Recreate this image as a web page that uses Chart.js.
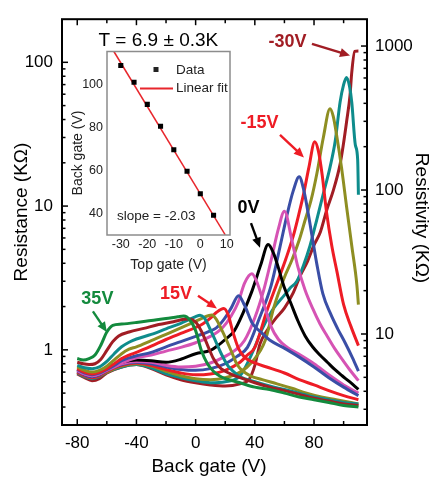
<!DOCTYPE html>
<html>
<head>
<meta charset="utf-8">
<script src="https://cdn.jsdelivr.net/npm/chart.js@4.4.1/dist/chart.umd.min.js"></script>
<style>
  html, body { margin: 0; padding: 0; background: #fff; }
  #wrap { position: relative; width: 431px; height: 477px; }
  #main { position: absolute; left: 0; top: 0; }
  #inset { position: absolute; left: 60px; top: 40px; }
</style>
</head>
<body>
<div id="wrap">
  <canvas id="main" width="431" height="477"></canvas>
  <canvas id="inset" width="180" height="240"></canvas>
</div>
<script>
// main panel: resistance vs back gate, one curve per top gate voltage
// back gate (V) / resistance (kOhm)
const g35V = [-80,-76,-72,-68,-64,-60,-56,-50,-40,-30,-20,-12,-8,-4,0,4,8,12,16,20,25,30,40,50,60,70,80,90,100,110];
const g35R = [0.87,0.85,0.87,0.92,1.08,1.33,1.48,1.51,1.55,1.60,1.65,1.70,1.72,1.62,1.36,0.98,0.80,0.71,0.66,0.63,0.61,0.59,0.55,0.53,0.50,0.47,0.45,0.43,0.41,0.40];

const d30V = [-80,-76,-72,-68,-64,-60,-56,-52,-45,-35,-25,-15,-8,-4,0,4,8,12,16,20,25,30,40,50,60,70,80,90,100,110];
const d30R = [0.82,0.80,0.79,0.80,0.86,0.99,1.14,1.25,1.33,1.41,1.50,1.57,1.63,1.64,1.56,1.34,1.08,0.87,0.76,0.71,0.67,0.64,0.59,0.55,0.52,0.49,0.46,0.44,0.42,0.41];

const t25V = [-80,-75,-70,-65,-60,-55,-50,-45,-40,-30,-20,-10,-4,0,3,6,10,14,18,22,26,30,40,50,60,70,80,90,100,110];
const t25R = [0.78,0.75,0.74,0.76,0.83,0.94,1.05,1.13,1.19,1.28,1.40,1.53,1.63,1.70,1.74,1.66,1.38,1.12,0.91,0.77,0.70,0.65,0.60,0.56,0.53,0.50,0.47,0.45,0.43,0.42];

const o20V = [-80,-75,-70,-65,-60,-55,-50,-45,-40,-30,-20,-10,0,5,8,11,14,17,21,25,28,32,37,45,55,65,75,85,95,105,110];
const o20R = [0.76,0.72,0.70,0.72,0.77,0.85,0.94,1.01,1.05,1.16,1.28,1.42,1.58,1.67,1.72,1.75,1.63,1.42,1.16,0.93,0.79,0.71,0.66,0.62,0.58,0.54,0.50,0.47,0.45,0.43,0.42];

const r15V = [-80,-75,-70,-65,-60,-55,-50,-45,-40,-30,-20,-10,0,5,10,14,19,22,25,29,33,40,48,60,70,80,90,100,110];
const r15R = [0.74,0.70,0.68,0.70,0.74,0.80,0.87,0.92,0.96,1.06,1.18,1.30,1.43,1.52,1.66,1.82,1.94,1.75,1.35,1.02,0.89,0.81,0.76,0.69,0.62,0.57,0.52,0.48,0.45];

const b10V = [-80,-75,-70,-65,-60,-55,-50,-45,-40,-30,-20,-10,0,8,14,19,24,29,33,38,41,45,50,59,70,80,90,100,110];
const b10R = [0.73,0.69,0.67,0.69,0.73,0.78,0.84,0.88,0.91,0.96,1.05,1.14,1.24,1.33,1.42,1.62,1.95,2.38,2.05,1.55,1.42,1.30,1.17,1.04,0.89,0.76,0.64,0.55,0.48];

const m5V = [-80,-75,-70,-65,-60,-55,-50,-45,-40,-30,-20,-10,0,10,18,24,29,33,38,42,47,51,56,62,70,80,90,100,110];
const m5R = [0.72,0.68,0.66,0.68,0.72,0.76,0.81,0.85,0.88,0.92,0.98,1.04,1.12,1.24,1.42,1.72,2.17,2.90,3.38,2.85,1.95,1.45,1.18,1.04,0.93,0.80,0.67,0.57,0.50];

const k0V = [-80,-75,-70,-65,-60,-55,-50,-40,-30,-20,-10,0,10,15,20,26,32,38,44,49,53,56,60,64,69,74,79,84,89,94,99,104,110];
const k0R = [0.73,0.69,0.67,0.70,0.75,0.79,0.82,0.85,0.84,0.82,0.86,0.94,0.99,1.07,1.18,1.35,1.80,2.55,3.90,5.40,4.60,3.70,2.70,2.15,1.60,1.25,1.05,0.92,0.82,0.73,0.66,0.60,0.53];

const m_5V = [-80,-75,-70,-65,-60,-50,-40,-30,-20,-10,0,10,20,27,33,40,46,51,56,60,65,69,74,79,84,89,94,99,104,110];
const m_5R = [0.72,0.68,0.66,0.68,0.73,0.80,0.83,0.82,0.78,0.76,0.77,0.81,0.90,1.00,1.16,1.67,2.60,4.20,7.00,9.20,5.80,3.80,2.60,1.95,1.52,1.24,1.02,0.86,0.73,0.61];

const b_10V = [-80,-75,-70,-65,-60,-50,-40,-30,-20,-10,0,10,20,28,35,43,51,57,62,66,70,73,76,79,82,86,91,96,101,106,110];
const b_10R = [0.71,0.67,0.65,0.67,0.72,0.79,0.82,0.80,0.76,0.73,0.72,0.74,0.80,0.90,1.04,1.65,2.80,5.20,8.90,12.8,16.0,13.0,9.0,5.9,3.9,2.45,1.80,1.40,1.12,0.88,0.71];

const r_15V = [-80,-75,-70,-65,-60,-50,-40,-30,-20,-10,0,10,20,30,35,40,48,56,61,66,70,73,76.5,80.5,83,85.5,88.5,92,95.5,100,105,110];
const r_15R = [0.70,0.66,0.64,0.66,0.71,0.78,0.81,0.78,0.73,0.69,0.67,0.68,0.72,0.82,0.92,1.04,1.85,3.10,4.30,6.20,9.0,12.2,18.5,28.0,24.0,16.5,9.0,5.3,3.5,2.06,1.45,1.07];

const o_20V = [-80,-75,-70,-65,-60,-50,-40,-30,-20,-10,0,10,20,30,38,47,53,60,65,70,74,78,82,86.3,90.8,93,95.3,98.6,102,105.5,109,110];
const o_20R = [0.70,0.66,0.64,0.66,0.70,0.77,0.80,0.77,0.71,0.66,0.63,0.62,0.64,0.70,0.82,1.16,2.0,3.2,4.2,5.8,8.0,11.0,17.0,30.0,47.5,42.0,31.0,18.5,9.9,5.3,2.8,2.06];

const t_25V = [-80,-75,-70,-65,-60,-50,-40,-30,-20,-10,0,10,20,30,39,45,52,60,64,68.4,72.8,77.3,81.8,86.3,90.8,94.3,97.6,100,102,104,105.5,107.9,109.5,110];
const t_25R = [0.69,0.65,0.63,0.65,0.70,0.76,0.79,0.75,0.68,0.64,0.61,0.59,0.60,0.66,0.99,1.40,1.90,2.40,2.70,3.0,3.85,5.3,8.0,12.2,18.6,28.2,52.8,70.0,78.5,68.0,52.8,26.7,21.0,12.0];

const d_30V = [-80,-75,-70,-65,-60,-50,-40,-30,-20,-10,0,10,20,30,36,40,43.5,48,54,60,66,70.8,75.3,79.8,84.3,88.6,93,97.6,99.8,102,104.3,105.5,107.5,110];
const d_30R = [0.68,0.64,0.61,0.63,0.69,0.76,0.79,0.74,0.67,0.62,0.59,0.57,0.56,0.58,0.62,0.78,1.10,1.35,1.65,1.95,2.50,3.30,4.06,5.30,6.60,9.40,12.8,19.5,26.7,38.6,58.6,85.0,119,120];

// inset: Dirac point back gate vs top gate
const topGate = [-30,-25,-20,-15,-10,-5,0,5];
const diracBG = [108.9,101.1,90.8,80.6,69.7,59.7,49.2,39.2];
const fitTG = [-32.6, 9.4];
const fitBG = [115.4, 30.1];

const xTicks = [-80,-40,0,40,80];
const xMinor = [-60,-20,20,60,100];
const leftTicks = [1,10,100];
const rightTicks = [10,100,1000];
const insetXTicks = [-30,-20,-10,0,10];
const insetYTicks = [40,60,80,100];

const DRED = '#a11d24', TEAL = '#0e8c8c', OLIVE = '#8e8e22', RED = '#ee1c25',
      BLUE = '#3a4ea6', PINK = '#d653b4', BLACK = '#000000', GREEN = '#138a3d';

// drawn top to bottom: first entry ends up on top
const series = [
  ['35 V', g35V, g35R, GREEN],
  ['30 V', d30V, d30R, DRED],
  ['25 V', t25V, t25R, TEAL],
  ['20 V', o20V, o20R, OLIVE],
  ['15 V', r15V, r15R, RED],
  ['10 V', b10V, b10R, BLUE],
  ['5 V', m5V, m5R, PINK],
  ['0 V', k0V, k0R, BLACK],
  ['-5 V', m_5V, m_5R, PINK],
  ['-10 V', b_10V, b_10R, BLUE],
  ['-15 V', r_15V, r_15R, RED],
  ['-20 V', o_20V, o_20R, OLIVE],
  ['-25 V', t_25V, t_25R, TEAL],
  ['-30 V', d_30V, d_30R, DRED]
];

const RHO = 7.7; // resistivity / resistance
const yMin = 0.303, yMax = 199.5;

const FONT = '"Liberation Sans", Arial, Helvetica, sans-serif';
Chart.defaults.font.family = FONT;
Chart.defaults.color = '#000';

// labels with arrows, placed in data coordinates (back gate, kOhm)
const notes = [
  { text: '-30V', color: DRED, at: [62.1, 138.8], from: [78.6, 134.5], to: [104.3, 111.4] },
  { text: '-15V', color: RED, at: [43.1, 37.7], from: [57.0, 31.3], to: [73.2, 21.8] },
  { text: '0V', color: BLACK, at: [35.7, 9.63], from: [37.4, 7.61], to: [43.5, 5.14] },
  { text: '15V', color: RED, at: [-13.3, 2.46], from: [1.6, 2.38], to: [14.4, 1.94] },
  { text: '35V', color: GREEN, at: [-66.4, 2.24], from: [-69.4, 1.85], to: [-60.0, 1.33] }
];

function arrow(ctx, x1, y1, x2, y2, color) {
  const a = Math.atan2(y2 - y1, x2 - x1), hl = 10, hw = 4.5;
  const c = Math.cos(a), s = Math.sin(a);
  ctx.strokeStyle = color;
  ctx.fillStyle = color;
  ctx.lineWidth = 2.4;
  ctx.beginPath();
  ctx.moveTo(x1, y1);
  ctx.lineTo(x2 - hl * 0.8 * c, y2 - hl * 0.8 * s);
  ctx.stroke();
  ctx.beginPath();
  ctx.moveTo(x2, y2);
  ctx.lineTo(x2 - hl * c + hw * s, y2 - hl * s - hw * c);
  ctx.lineTo(x2 - hl * c - hw * s, y2 - hl * s + hw * c);
  ctx.closePath();
  ctx.fill();
}

const mainDeco = {
  id: 'mainDeco',
  afterDatasetsDraw(chart) {
    const { ctx, chartArea: a, scales } = chart;
    const x = scales.x, y = scales.y, y2 = scales.y2;
    ctx.save();
    ctx.strokeStyle = '#000';
    ctx.lineWidth = 1.5;
    const seg = (x1, y1, x2, y2_) => { ctx.beginPath(); ctx.moveTo(x1, y1); ctx.lineTo(x2, y2_); ctx.stroke(); };

    // inward ticks, bottom and top
    xTicks.forEach(v => { const p = x.getPixelForValue(v); seg(p, a.bottom, p, a.bottom - 6); seg(p, a.top, p, a.top + 6); });
    xMinor.forEach(v => { const p = x.getPixelForValue(v); seg(p, a.bottom, p, a.bottom - 4); seg(p, a.top, p, a.top + 4); });

    // log ticks left (resistance) and right (resistivity)
    [0.1, 1, 10, 100].forEach(d => {
      for (let m = 1; m < 10; m++) {
        const v = m * d;
        if (v < yMin || v > yMax) continue;
        const p = y.getPixelForValue(v);
        seg(a.left, p, a.left + (m === 1 ? 6 : 3.5), p);
      }
    });
    [1, 10, 100, 1000].forEach(d => {
      for (let m = 1; m < 10; m++) {
        const v = m * d;
        if (v < yMin * RHO || v > yMax * RHO) continue;
        const p = y2.getPixelForValue(v);
        seg(a.right, p, a.right - (m === 1 ? 6 : 3.5), p);
      }
    });

    ctx.lineWidth = 2;
    ctx.strokeRect(a.left, a.top, a.right - a.left, a.bottom - a.top);

    // titles
    ctx.fillStyle = '#000';
    ctx.font = '19px ' + FONT;
    ctx.textAlign = 'center';
    ctx.textBaseline = 'middle';
    ctx.fillText('Back gate (V)', 209, 467);
    ctx.save();
    ctx.translate(22, 212);
    ctx.rotate(-Math.PI / 2);
    ctx.fillText('Resistance (K\u03A9)', 0, 0);
    ctx.restore();
    ctx.save();
    ctx.translate(421, 218);
    ctx.rotate(Math.PI / 2);
    ctx.fillText('Resistivity (K\u03A9)', 0, 0);
    ctx.restore();

    ctx.fillText('T = 6.9 \u00B1 0.3K', x.getPixelForValue(-25.2), y.getPixelForValue(141));

    // voltage labels with arrows
    ctx.font = 'bold 18px ' + FONT;
    notes.forEach(n => {
      ctx.fillStyle = n.color;
      ctx.fillText(n.text, x.getPixelForValue(n.at[0]), y.getPixelForValue(n.at[1]));
      arrow(ctx, x.getPixelForValue(n.from[0]), y.getPixelForValue(n.from[1]),
        x.getPixelForValue(n.to[0]), y.getPixelForValue(n.to[1]), n.color);
    });
    ctx.restore();
  }
};

const setTicks = vals => s => { s.ticks = vals.map(v => ({ value: v })); };

new Chart(document.getElementById('main'), {
  type: 'scatter',
  data: {
    datasets: series.map(([label, vs, rs, color]) => ({
      label,
      data: vs.map((v, i) => ({ x: v, y: rs[i] })),
      showLine: true,
      borderColor: color,
      backgroundColor: color,
      borderWidth: 3,
      pointRadius: 0,
      cubicInterpolationMode: 'monotone'
    }))
  },
  options: {
    responsive: false,
    animation: false,
    devicePixelRatio: 1,
    layout: { padding: { top: 12, left: 0, right: 0, bottom: 0 } },
    plugins: { legend: { display: false }, tooltip: { enabled: false } },
    scales: {
      x: {
        type: 'linear', min: -90.3, max: 115.8,
        afterBuildTicks: setTicks(xTicks),
        afterFit: s => { s.height = 52; },
        grid: { display: false, drawTicks: false }, border: { display: false },
        ticks: { font: { size: 17 }, color: '#000', padding: 8, maxRotation: 0, autoSkip: false,
          callback: v => String(v) }
      },
      y: {
        type: 'logarithmic', position: 'left', min: yMin, max: yMax,
        afterBuildTicks: setTicks(leftTicks),
        afterFit: s => { s.width = 62; },
        grid: { display: false, drawTicks: false }, border: { display: false },
        ticks: { font: { size: 17 }, color: '#000', padding: 9, autoSkip: false,
          callback: v => String(v) }
      },
      y2: {
        type: 'logarithmic', position: 'right', min: yMin * RHO, max: yMax * RHO,
        afterBuildTicks: setTicks(rightTicks),
        afterFit: s => { s.width = 64; },
        grid: { display: false, drawTicks: false }, border: { display: false },
        ticks: { font: { size: 17 }, color: '#000', padding: 8, autoSkip: false,
          callback: v => String(v) }
      }
    }
  },
  plugins: [mainDeco]
});

// inset
const insetDeco = {
  id: 'insetDeco',
  beforeDatasetsDraw(chart) {
    const { ctx, chartArea: a } = chart;
    ctx.save();
    ctx.fillStyle = '#fff';
    ctx.fillRect(a.left, a.top, a.right - a.left, a.bottom - a.top);
    ctx.restore();
  },
  afterDatasetsDraw(chart) {
    const { ctx, chartArea: a } = chart;
    ctx.save();
    ctx.strokeStyle = '#8c8c8c';
    ctx.lineWidth = 1.5;
    ctx.strokeRect(a.left, a.top, a.right - a.left, a.bottom - a.top);

    ctx.fillStyle = '#222';
    ctx.textBaseline = 'middle';
    ctx.textAlign = 'left';
    ctx.font = '13.5px ' + FONT;
    ctx.fillRect(a.left + 46.5, a.top + 15.5, 5, 5);
    ctx.fillText('Data', a.left + 69, a.top + 19);
    ctx.strokeStyle = '#e8262c';
    ctx.lineWidth = 1.8;
    ctx.beginPath();
    ctx.moveTo(a.left + 33, a.top + 37);
    ctx.lineTo(a.left + 66, a.top + 37);
    ctx.stroke();
    ctx.fillText('Linear fit', a.left + 69, a.top + 37);
    ctx.fillText('slope = -2.03', a.left + 10, a.top + 165);

    ctx.textAlign = 'center';
    ctx.font = '14px ' + FONT;
    ctx.fillText('Top gate (V)', (a.left + a.right) / 2, 225);
    ctx.save();
    ctx.translate(18, 113);
    ctx.rotate(-Math.PI / 2);
    ctx.fillText('Back gate (V)', 0, 0);
    ctx.restore();
    ctx.restore();
  }
};

new Chart(document.getElementById('inset'), {
  type: 'scatter',
  data: {
    datasets: [
      {
        label: 'Data',
        data: topGate.map((v, i) => ({ x: v, y: diracBG[i] })),
        pointStyle: 'rect', pointRadius: 3.6,
        backgroundColor: '#000', borderColor: '#000', borderWidth: 0
      },
      {
        label: 'Linear fit',
        data: fitTG.map((v, i) => ({ x: v, y: fitBG[i] })),
        showLine: true, pointRadius: 0,
        borderColor: '#e8262c', borderWidth: 1.5
      }
    ]
  },
  options: {
    responsive: false,
    animation: false,
    devicePixelRatio: 1,
    layout: { padding: { top: 10, right: 10, left: 0, bottom: 0 } },
    plugins: { legend: { display: false }, tooltip: { enabled: false } },
    scales: {
      x: {
        type: 'linear', min: -35.2, max: 11.2,
        afterBuildTicks: setTicks(insetXTicks),
        afterFit: s => { s.height = 45; },
        grid: { display: false, drawTicks: false }, border: { display: false },
        ticks: { font: { size: 12.5 }, color: '#222', padding: 2.5, maxRotation: 0, autoSkip: false,
          callback: v => String(v) }
      },
      y: {
        type: 'linear', min: 30, max: 115.4,
        afterBuildTicks: setTicks(insetYTicks),
        afterFit: s => { s.width = 47; },
        grid: { display: false, drawTicks: false }, border: { display: false },
        ticks: { font: { size: 12.5 }, color: '#222', padding: 4, autoSkip: false,
          callback: v => String(v) }
      }
    }
  },
  plugins: [insetDeco]
});
</script>
</body>
</html>
